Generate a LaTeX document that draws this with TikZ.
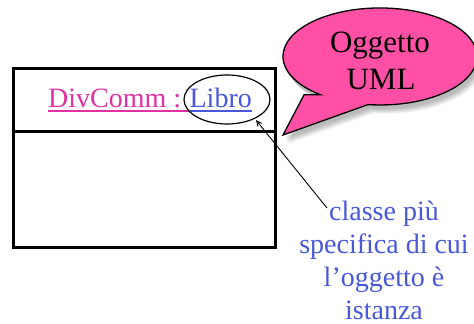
\documentclass[tikz,border=0pt]{standalone}
\usepackage{fontspec}
\setmainfont{Liberation Serif}
\usetikzlibrary{arrows.meta,shapes.geometric}
\definecolor{pinktext}{RGB}{226,48,160}
\definecolor{bluetext}{RGB}{72,88,218}
\definecolor{bubblefill}{RGB}{255,80,165}
\tikzset{
  boxline/.style={line width=3pt, draw=black},
  lbl/.style={inner sep=0pt, font=\fontsize{28}{33}\selectfont},
  bubtxt/.style={inner sep=0pt, font=\fontsize{31}{37}\selectfont},
  bluelbl/.style={inner sep=0pt, font=\fontsize{28}{33}\selectfont, text=bluetext, anchor=base},
  ul/.style={line width=1.3pt},
}
\def\bubblepath{(304.1,229.3) -- (283,189) -- (368,219.4) arc[start angle=262.9, end angle=592, x radius=97, y radius=48.5] -- cycle}
\begin{document}
\begin{tikzpicture}[x=1pt,y=1pt]
\useasboundingbox (0,0) rectangle (474,324);
\begin{scope}
\clip (0,0) rectangle (474,324);
% shadow of the callout
\foreach \d in {0,1,2,3,4,5,6}{
  \fill[black, opacity=0.045, shift={(2+0.6*\d,-4-0.8*\d)}] \bubblepath;
}
% callout bubble
\path[fill=bubblefill, draw=black, line width=1.3pt, line join=miter] \bubblepath;
\end{scope}
\node[bubtxt, anchor=base] (og) at (380,271) {Oggetto};
\node[bubtxt, anchor=base] (uml) at (381,234) {UML};
% UML object box
\draw[boxline] (13,76) rectangle (275,255);
\draw[boxline] (13,192) -- (275,192);
\node[lbl, anchor=base west, text=pinktext] (div) at (48,216) {DivComm :};
\node[lbl, anchor=base west, text=bluetext] (libro) at ([xshift=8pt]div.base east) {Libro};
\draw[ul, pinktext] ([yshift=-3pt]div.base west) -- ([yshift=-3pt]libro.base west);
\draw[ul, bluetext] ([yshift=-3pt]libro.base west) -- ([yshift=-3pt]libro.base east);
\node[ellipse, draw=black, line width=1.2pt, minimum width=86pt, minimum height=49pt, inner sep=0pt] (ell) at (227,224.5) {};
% explanation text
\node[bluelbl] (l1) at (384,103) {classe più};
\node[bluelbl] (l2) at (384,70) {specifica di cui};
\node[bluelbl] (l3) at (384,37) {l’oggetto è};
\node[bluelbl] (l4) at (384,5) {istanza};
\coordinate (tail) at (327,116);
\draw[line width=0.9pt, -{Straight Barb[length=5pt,width=5pt]}] (tail) -- ([shift={(2,-1)}]ell.-36);
\end{tikzpicture}
\end{document}
